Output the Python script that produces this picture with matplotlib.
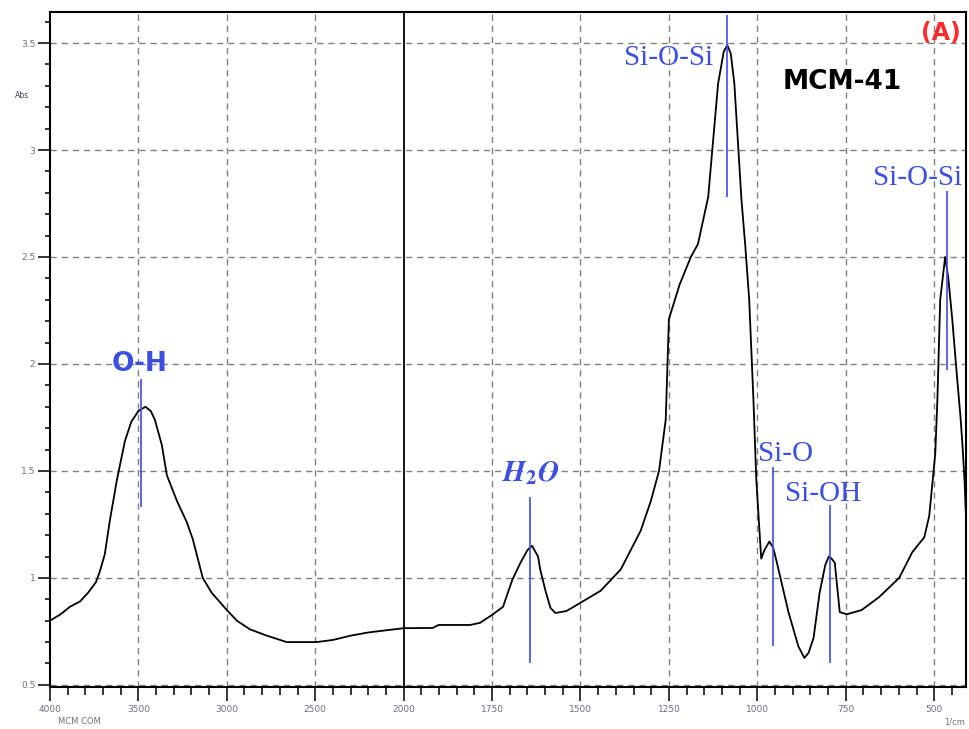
import numpy as np
import matplotlib
matplotlib.use('Agg')
import matplotlib.pyplot as plt
from matplotlib.ticker import FixedLocator, NullFormatter

# FTIR spectrum of MCM-41 (absorbance vs wavenumber)
wavenumber = [4000, 3940, 3887, 3830, 3785, 3740, 3718, 3690, 3661, 3621,
              3576, 3540, 3500, 3460, 3430, 3407, 3367, 3339, 3282, 3226,
              3192, 3136, 3085, 3000, 2943, 2870, 2774, 2661, 2492, 2400,
              2300, 2200, 2100, 2000, 1918, 1901, 1812, 1784, 1750, 1719,
              1693, 1670, 1650, 1637, 1620, 1614, 1599, 1585, 1571, 1540,
              1514, 1443, 1386, 1330, 1301, 1278, 1259, 1250, 1220, 1188,
              1168, 1139, 1111, 1095, 1085, 1075, 1065, 1045, 1034, 1023,
              1011, 1003, 994, 989, 980, 966, 955, 946, 912, 884,
              867, 855, 841, 824, 808, 798, 790, 781, 767, 747,
              705, 656, 599, 562, 528, 514, 497, 491, 483, 469,
              460, 449, 435, 426, 420, 414, 411]
absorbance = [0.80, 0.83, 0.865, 0.89, 0.93, 0.98, 1.03, 1.11, 1.27, 1.46,
              1.64, 1.73, 1.78, 1.80, 1.78, 1.74, 1.62, 1.48, 1.36, 1.26,
              1.18, 1.00, 0.93, 0.85, 0.80, 0.76, 0.73, 0.70, 0.70, 0.71,
              0.73, 0.745, 0.755, 0.765, 0.766, 0.78, 0.78, 0.79, 0.827, 0.865,
              0.99, 1.07, 1.13, 1.15, 1.10, 1.04, 0.94, 0.86, 0.836, 0.845,
              0.87, 0.94, 1.04, 1.22, 1.36, 1.50, 1.74, 2.21, 2.37, 2.50,
              2.56, 2.78, 3.31, 3.46, 3.49, 3.45, 3.31, 2.77, 2.55, 2.30,
              1.83, 1.46, 1.22, 1.09, 1.13, 1.17, 1.14, 1.08, 0.84, 0.68,
              0.626, 0.65, 0.72, 0.93, 1.06, 1.10, 1.09, 1.07, 0.84, 0.83,
              0.85, 0.91, 1.00, 1.12, 1.19, 1.29, 1.58, 1.83, 2.30, 2.50,
              2.40, 2.21, 1.93, 1.76, 1.62, 1.45, 1.32]

# band assignments: marker position, line extent
band_x = [3486, 1642, 1085, 955, 795, 463]
band_top = [1.93, 1.38, 3.63, 1.52, 1.34, 2.81]
band_bot = [1.33, 0.60, 2.78, 0.68, 0.60, 1.97]

x_major = [4000, 3500, 3000, 2500, 2000, 1750, 1500, 1250, 1000, 750, 500]
y_major = [0.5, 1, 1.5, 2, 2.5, 3, 3.5]
y_labels = ['0.5', '1', '1.5', '2', '2.5', '3', '3.5']

blue = '#3d4fe0'
tick_col = '#6b7080'


# the spectrometer doubles the scale below 2000 1/cm
def fwd(x):
    x = np.asarray(x, dtype=float)
    return np.where(x >= 2000, 4000 - x, 2000 + 2 * (2000 - x))


def inv(u):
    u = np.asarray(u, dtype=float)
    return np.where(u <= 2000, 4000 - u, 2000 - (u - 2000) / 2)


fig = plt.figure(figsize=(9.7, 7.29), dpi=100)
ax = fig.add_axes([0.0515, 0.0576, 0.9444, 0.9259])
ax.set_xscale('function', functions=(fwd, inv))
ax.set_xlim(410, 4000)
ax.set_ylim(0.49, 3.645)

# ticks
x_minor = list(range(4000, 1999, -100)) + list(range(1950, 409, -50))
ax.xaxis.set_major_locator(FixedLocator(x_major))
ax.xaxis.set_minor_locator(FixedLocator(x_minor))
ax.xaxis.set_minor_formatter(NullFormatter())
ax.set_xticklabels([str(v) for v in x_major])
ax.yaxis.set_major_locator(FixedLocator(y_major))
ax.yaxis.set_minor_locator(FixedLocator(np.round(np.arange(0.5, 3.65, 0.1), 2)))
ax.set_yticklabels(y_labels)
ax.tick_params(axis='x', which='major', direction='out', length=10, width=1.1,
               labelsize=6.5, labelcolor=tick_col, pad=3)
ax.tick_params(axis='x', which='minor', direction='out', length=5.5, width=1.1)
ax.tick_params(axis='y', which='major', direction='out', length=8.5, width=1.1,
               labelsize=6.5, labelcolor=tick_col, pad=2)
ax.tick_params(axis='y', which='minor', direction='out', length=3.5, width=1.1)
for s in ax.spines.values():
    s.set_linewidth(1.5)

# dashed grid, except the scale break which is solid
for v in x_major:
    if v in (4000, 2000):
        continue
    ax.axvline(v, color='#808080', lw=1.0, ls=(0, (4.5, 3.5)), zorder=1)
for v in y_major:
    ax.axhline(v, color='#808080', lw=1.0, ls=(0, (4.5, 3.5)), zorder=1)
ax.axvline(2000, color='black', lw=1.3, zorder=2)

ax.plot(wavenumber, absorbance, color='black', lw=1.3, zorder=3)

ax.vlines(band_x, band_bot, band_top, color=blue, lw=1.2, zorder=4)

ax.text(3492, 2.0, 'O-H', color=blue, fontsize=19, fontweight='bold',
        ha='center', va='center', family='DejaVu Sans')
plt.rcParams['mathtext.fontset'] = 'stix'
ax.text(1642, 1.49, r'$\mathbfit{H}_{\mathbf{2}}\mathbfit{O}$', color=blue,
        fontsize=21, ha='center', va='center')
serif = dict(color=blue, fontsize=21, family='Liberation Serif', va='center')
ax.text(1125, 3.43, 'Si-O-Si', ha='right', **serif)
ax.text(547, 2.87, 'Si-O-Si', ha='center', **serif)
ax.text(920, 1.58, 'Si-O', ha='center', **serif)
ax.text(815, 1.39, 'Si-OH', ha='center', **serif)

ax.text(759, 3.32, 'MCM-41', color='black', fontsize=19, fontweight='bold',
        ha='center', va='center')
ax.text(480, 3.547, '(A)', color='#ff2a2a', fontsize=17, fontweight='bold',
        ha='center', va='center')

fig.text(22 / 970, 1 - 96 / 729, 'Abs', fontsize=5.5, color='#404858',
         ha='center', va='center')
fig.text(79 / 970, 1 - 722 / 729, 'MCM COM', fontsize=6, color='#6b7080',
         ha='center', va='center')
fig.text(955 / 970, 1 - 722 / 729, '1/cm', fontsize=6, color='#6b7080',
         ha='center', va='center')

fig.savefig('out.png', dpi=100)
